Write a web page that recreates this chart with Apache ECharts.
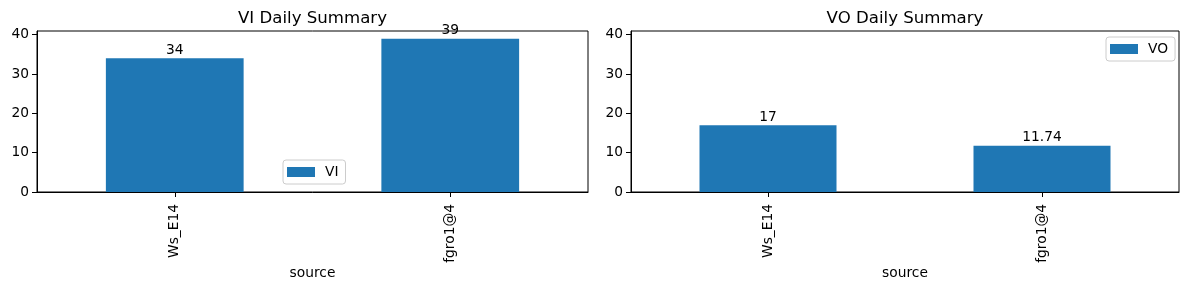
<!DOCTYPE html>
<html>
<head>
<meta charset="utf-8">
<script src="https://cdn.jsdelivr.net/npm/echarts@6/dist/echarts.min.js"></script>
<style>html,body{margin:0;padding:0;background:#fff;}#c{width:1189px;height:290px;}</style>
</head>
<body>
<div id="c"></div>
<script>
const categories = ['Ws_E14', 'fgro1@4'];
const viValues = [34, 39];
const voValues = [17, 11.74];
const yTicks = [0, 10, 20, 30, 40];
const titles = ['VI Daily Summary', 'VO Daily Summary'];
const seriesNames = ['VI', 'VO'];
const xName = 'source';

const FONT = 'DejaVu Sans';
const BLUE = '#1f77b4';
const yMax = Math.max(...viValues, ...voValues) * 1.05;

const grids = [
  {left: 37, top: 31, width: 551, height: 161},
  {left: 631, top: 31, width: 548, height: 161}
];
const legendPos = [{left: 283, top: 160}, {left: 1106, top: 37}];

function xAxis(i) {
  return {
    type: 'category', gridIndex: i, data: categories, boundaryGap: true,
    axisLine: {show: true, lineStyle: {color: '#000', width: 1}},
    axisTick: {show: true, alignWithLabel: true, length: 5, lineStyle: {color: '#000'}},
    axisLabel: {rotate: 90, margin: 12, fontSize: 13.8, color: '#000', fontFamily: FONT},
    name: xName, nameLocation: 'middle', nameGap: 74, nameMoveOverlap: false,
    nameTextStyle: {fontSize: 13.8, color: '#000', fontFamily: FONT},
    splitLine: {show: false}
  };
}
function yAxis(i) {
  return {
    type: 'value', gridIndex: i, min: 0, max: yMax,
    axisLine: {show: true, lineStyle: {color: '#000', width: 1}},
    axisTick: {show: true, length: 5, lineStyle: {color: '#000'}, customValues: yTicks},
    axisLabel: {margin: 8, fontSize: 13.8, color: '#000', fontFamily: FONT, customValues: yTicks},
    splitLine: {show: false}
  };
}
function series(i, vals) {
  return {
    type: 'bar', name: seriesNames[i], xAxisIndex: i, yAxisIndex: i, data: vals,
    barWidth: '50%', itemStyle: {color: BLUE},
    label: {show: true, position: 'top', distance: 1, fontSize: 13.8, color: '#000', fontFamily: FONT},
    animation: false
  };
}

const chart = echarts.init(document.getElementById('c'), null, {renderer: 'canvas'});
chart.setOption({
  animation: false,
  backgroundColor: '#fff',
  title: titles.map((t, i) => ({
    text: t, left: grids[i].left + grids[i].width / 2, top: 10, textAlign: 'center', padding: 0,
    textStyle: {fontSize: 16.6, fontWeight: 'normal', color: '#000', fontFamily: FONT}
  })),
  legend: seriesNames.map((n, i) => ({
    data: [n], left: legendPos[i].left, top: legendPos[i].top, orient: 'vertical',
    itemWidth: 28, itemHeight: 10, icon: 'rect',
    padding: [5, 7, 5, 4], borderColor: '#cccccc', borderWidth: 1, borderRadius: 3,
    backgroundColor: 'rgba(255,255,255,0.8)',
    textStyle: {fontSize: 13.8, color: '#000', fontFamily: FONT, padding: [0, 0, 0, 5]},
    selectedMode: false
  })),
  grid: grids.map(g => Object.assign({show: true, borderColor: '#000', borderWidth: 1, backgroundColor: 'transparent', containLabel: false}, g)),
  xAxis: [xAxis(0), xAxis(1)],
  yAxis: [yAxis(0), yAxis(1)],
  series: [series(0, viValues), series(1, voValues)]
});
</script>
</body>
</html>
